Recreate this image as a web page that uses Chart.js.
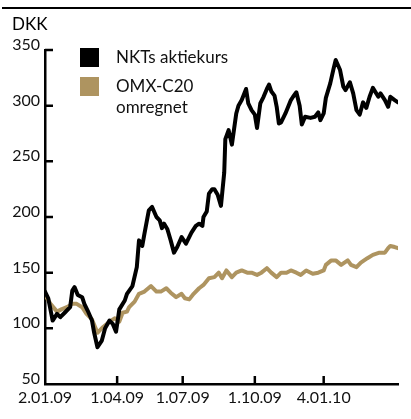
<!DOCTYPE html>
<html>
<head>
<meta charset="utf-8">
<script src="https://cdn.jsdelivr.net/npm/chart.js@4/dist/chart.umd.min.js"></script>
<style>
  html, body { margin: 0; padding: 0; background: #fff; }
  #wrap { width: 411px; height: 419px; }
</style>
</head>
<body>
<div id="wrap"><canvas id="chart" width="411" height="419"></canvas></div>
<script>
// trading day index since 2.01.09
const nktDays = [0, 3, 7, 11, 14, 18, 23, 25, 27, 30, 34, 36, 39, 43, 45, 48, 52, 55, 59, 62, 65, 68, 73, 75, 80, 84, 86, 89, 91, 95, 98, 102, 105, 107, 109, 112, 115, 118, 121, 125, 129, 134, 138, 141, 144, 145, 148, 150, 153, 155, 158, 161, 164, 165, 168, 171, 175, 177, 180, 184, 186, 189, 192, 194, 197, 200, 203, 205, 207, 210, 212, 214, 216, 220, 225, 227, 230, 233, 235, 238, 243, 247, 250, 252, 255, 257, 261, 264, 266, 270, 273, 275, 279, 282, 285, 288, 291, 294, 297, 300, 305, 307, 311, 314, 316, 320, 323];
const nktValues = [133, 127, 107, 113, 110, 114, 119, 134, 137, 130, 128, 122, 116, 107, 96, 83, 89, 100, 107, 104, 97, 117, 125, 131, 138, 155, 179, 174, 185, 206, 209, 200, 197, 190, 194, 189, 179, 168, 173, 182, 176, 186, 192, 194, 192, 200, 205, 221, 225, 225, 220, 210, 240, 270, 278, 265, 293, 300, 305, 315, 302, 296, 292, 280, 302, 308, 315, 319, 313, 309, 299, 284, 285, 293, 305, 308, 312, 300, 283, 290, 289, 290, 294, 287, 293, 307, 320, 333, 341, 332, 317, 314, 321, 311, 296, 292, 303, 298, 308, 316, 308, 311, 305, 299, 308, 305, 303];

const omxDays = [0, 5, 11, 15, 20, 25, 29, 34, 38, 43, 48, 53, 59, 64, 68, 71, 75, 77, 82, 86, 91, 97, 102, 106, 111, 115, 120, 125, 128, 132, 136, 141, 145, 150, 155, 159, 162, 166, 171, 175, 180, 185, 189, 194, 198, 203, 207, 212, 216, 221, 225, 230, 234, 239, 245, 250, 255, 257, 262, 266, 271, 277, 280, 285, 289, 295, 300, 306, 311, 314, 316, 320, 323];
const omxValues = [130, 122, 115, 117, 119, 122, 122, 119, 113, 108, 96, 101, 106, 109, 106, 114, 115, 119, 124, 131, 133, 138, 133, 133, 136, 132, 128, 131, 127, 126, 131, 136, 139, 145, 146, 150, 145, 152, 146, 150, 152, 150, 150, 148, 150, 154, 150, 146, 150, 150, 152, 150, 148, 152, 149, 150, 152, 157, 161, 161, 157, 161, 157, 155, 159, 163, 166, 168, 168, 172, 174, 173, 172];

const tickDays = [0, 66, 126, 192, 255];
const tickLabels = ["2.01.09", "1.04.09", "1.07.09", "1.10.09", "4.01.10"];
const yTicks = [50, 100, 150, 200, 250, 300, 350];

const seriesNames = ["NKTs aktiekurs", "OMX-C20\nomregnet"];
const black = "#000000";
const gold = "#ae9460";
const font = "Lato";

const extras = {
  id: "extras",
  afterDraw(chart) {
    const ctx = chart.ctx;
    const x = chart.scales.x, y = chart.scales.y;
    const area = chart.chartArea;
    ctx.save();
    // top rule
    ctx.fillStyle = black;
    ctx.fillRect(2, 7, 409, 2);
    // unit
    ctx.font = "17px " + font;
    ctx.textBaseline = "alphabetic";
    ctx.fillText("DKK", 12, 30);
    // inward ticks
    ctx.strokeStyle = black;
    ctx.lineWidth = 2.5;
    ctx.beginPath();
    yTicks.slice(1).forEach(v => {
      const py = y.getPixelForValue(v);
      ctx.moveTo(area.left, py);
      ctx.lineTo(area.left + 8, py);
    });
    tickDays.slice(1).forEach(v => {
      const px = x.getPixelForValue(v);
      ctx.moveTo(px, area.bottom);
      ctx.lineTo(px, area.bottom - 8);
    });
    ctx.stroke();
    // x labels
    ctx.fillStyle = "#111";
    ctx.font = "16px " + font;
    ctx.textAlign = "center";
    tickDays.forEach((v, i) => {
      ctx.fillText(tickLabels[i], x.getPixelForValue(v), area.bottom + 19);
    });
    // legend
    ctx.textAlign = "left";
    const colors = [black, gold];
    ctx.font = "17px " + font;
    seriesNames.forEach((name, i) => {
      const top = 48 + i * 29;
      ctx.fillStyle = colors[i];
      ctx.fillRect(80, top, 19, 19);
      ctx.fillStyle = "#111";
      name.split("\n").forEach((line, j) => {
        ctx.fillText(line, 116, top + 15 + j * 21);
      });
    });
    ctx.restore();
  }
};

new Chart(document.getElementById("chart"), {
  type: "line",
  data: {
    datasets: [
      {
        label: seriesNames[0],
        data: nktDays.map((d, i) => ({ x: d, y: nktValues[i] })),
        borderColor: black,
        borderWidth: 4,
        pointRadius: 0,
        borderJoinStyle: "round",
        borderCapStyle: "round",
        tension: 0
      },
      {
        label: seriesNames[1],
        data: omxDays.map((d, i) => ({ x: d, y: omxValues[i] })),
        borderColor: gold,
        borderWidth: 4,
        pointRadius: 0,
        borderJoinStyle: "round",
        borderCapStyle: "round",
        tension: 0
      }
    ]
  },
  options: {
    responsive: false,
    animation: false,
    layout: { padding: { top: 50, right: 13, left: 0, bottom: 0 } },
    plugins: { legend: { display: false }, tooltip: { enabled: false } },
    scales: {
      x: {
        type: "linear",
        min: 0,
        max: 323,
        grid: { display: false, drawTicks: false },
        border: { display: true, color: black, width: 2.5 },
        afterBuildTicks: s => { s.ticks = tickDays.map(v => ({ value: v })); },
        afterFit: s => { s.height = 35; },
        ticks: { display: false }
      },
      y: {
        min: 50,
        max: 350,
        grid: { display: false, drawTicks: false },
        border: { display: true, color: black, width: 2.5 },
        afterBuildTicks: s => { s.ticks = yTicks.map(v => ({ value: v })); },
        afterFit: s => { s.width = 45; },
        ticks: {
          padding: 5,
          labelOffset: -5,
          color: "#111",
          font: { family: font, size: 16 }
        }
      }
    }
  },
  plugins: [extras]
});
</script>
</body>
</html>
